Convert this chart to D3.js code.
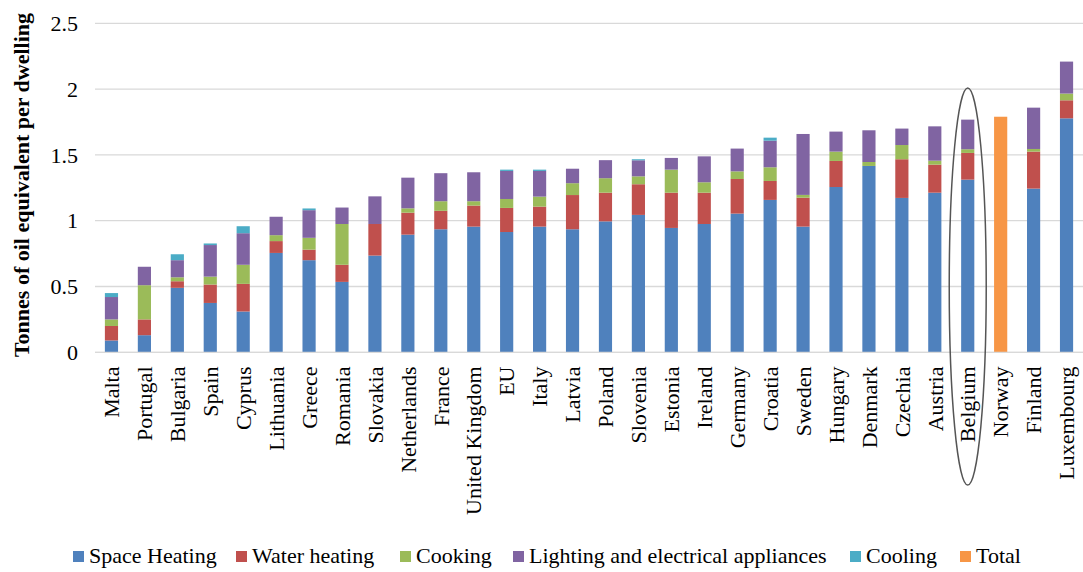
<!DOCTYPE html>
<html><head><meta charset="utf-8">
<script src="https://cdn.jsdelivr.net/npm/d3@7"></script>
<style>body{margin:0;background:#fff;}</style></head>
<body><svg id="c" width="1083" height="572"></svg>
<script>
const categories = ["Malta","Portugal","Bulgaria","Spain","Cyprus","Lithuania","Greece","Romania","Slovakia","Netherlands","France","United Kingdom","EU","Italy","Latvia","Poland","Slovenia","Estonia","Ireland","Germany","Croatia","Sweden","Hungary","Denmark","Czechia","Austria","Belgium","Norway","Finland","Luxembourg"];
const spaceHeating = [0.09,0.13,0.49,0.375,0.31,0.755,0.70,0.535,0.735,0.894,0.935,0.955,0.914,0.955,0.935,0.995,1.044,0.945,0.975,1.054,1.158,0.955,1.256,1.416,1.173,1.213,1.312,0,1.244,1.778];
const waterHeating = [0.11,0.12,0.05,0.14,0.21,0.09,0.08,0.13,0.24,0.167,0.14,0.16,0.183,0.152,0.26,0.218,0.233,0.268,0.238,0.263,0.144,0.22,0.198,0,0.294,0.213,0.203,0,0.281,0.137];
const cooking = [0.05,0.26,0.03,0.06,0.145,0.045,0.09,0.31,0,0.033,0.073,0.033,0.068,0.076,0.09,0.11,0.06,0.175,0.079,0.058,0.104,0.021,0.071,0.03,0.108,0.03,0.028,0,0.02,0.051];
const lighting = [0.17,0.14,0.13,0.24,0.24,0.14,0.21,0.125,0.21,0.233,0.213,0.22,0.213,0.195,0.11,0.137,0.122,0.089,0.197,0.173,0.202,0.463,0.152,0.241,0.125,0.261,0.225,0,0.314,0.243];
const cooling = [0.03,0,0.045,0.012,0.053,0,0.013,0,0,0,0,0,0.01,0.01,0,0,0.008,0,0,0,0.023,0,0,0,0,0,0,0,0,0];
const total = [0,0,0,0,0,0,0,0,0,0,0,0,0,0,0,0,0,0,0,0,0,0,0,0,0,0,0,1.79,0,0];
const seriesNames = ["Space Heating","Water heating","Cooking","Lighting and electrical appliances","Cooling","Total"];
const seriesColors = ["#4F81BD","#C0504D","#9BBB59","#8064A2","#4BACC6","#F79646"];
const yTicks = [0,0.5,1,1.5,2,2.5];
const yTickLabels = ["0","0.5","1","1.5","2","2.5"];
const highlighted = "Belgium";

const FONT = '"Liberation Serif", "Times New Roman", Times, serif';
const svg = d3.select("#c").style("font-family", FONT);
const mLeft = 95, mRight = 1083, mTop = 23.3, mBottom = 352.3;
const x = d3.scaleBand().domain(categories).range([mLeft, mRight]).paddingInner(0.6).paddingOuter(0.3);
const y = d3.scaleLinear().domain([0, 2.5]).range([mBottom, mTop]);

// gridlines
svg.append("g").selectAll("line").data(yTicks).join("line")
  .attr("x1", mLeft).attr("x2", mRight)
  .attr("y1", d => y(d)).attr("y2", d => y(d))
  .attr("stroke", "#d9d9d9").attr("stroke-width", 1.3);

// y tick labels
svg.append("g").selectAll("text").data(yTicks).join("text")
  .style("font-family", FONT)
  .attr("x", 78).attr("y", d => y(d)).attr("dy", "0.35em")
  .attr("text-anchor", "end").attr("font-size", 22).attr("fill", "#000")
  .text((d, i) => yTickLabels[i]);

// stacked bars
const rows = categories.map((c, i) => ({cat: c, v: [spaceHeating[i], waterHeating[i], cooking[i], lighting[i], cooling[i], total[i]]}));
const stack = d3.stack().keys(d3.range(6)).value((d, k) => d.v[k]);
const stacked = stack(rows);
svg.append("g").selectAll("g").data(stacked).join("g")
  .attr("fill", (d, i) => seriesColors[i])
  .selectAll("rect").data(d => d.filter(p => p[1] - p[0] > 0)).join("rect")
  .attr("x", d => x(d.data.cat)).attr("width", x.bandwidth())
  .attr("y", d => y(d[1])).attr("height", d => y(d[0]) - y(d[1]));

// axis line
svg.append("line").attr("x1", mLeft).attr("x2", mRight).attr("y1", mBottom).attr("y2", mBottom)
  .attr("stroke", "#d9d9d9").attr("stroke-width", 1.3);

// category labels
svg.append("g").selectAll("text").data(categories).join("text")
  .style("font-family", FONT)
  .attr("transform", d => `translate(${x(d) + x.bandwidth() / 2},366.5) rotate(-90)`)
  .attr("dy", "0.35em").attr("text-anchor", "end").attr("font-size", 22).attr("fill", "#000")
  .text(d => d);

// y axis title
svg.append("text")
  .style("font-family", FONT)
  .attr("transform", "translate(28.5,185) rotate(-90)")
  .attr("text-anchor", "middle").attr("font-size", 22).attr("font-weight", "bold").attr("fill", "#000")
  .text("Tonnes of oil equivalent per dwelling");

// ellipse around highlighted
const hx = x(highlighted) + x.bandwidth() / 2;
const eTop = y(2.0) - 1, eBottom = 485;
svg.append("ellipse")
  .attr("cx", hx).attr("cy", (eTop + eBottom) / 2)
  .attr("rx", 18.5).attr("ry", (eBottom - eTop) / 2)
  .attr("fill", "none").attr("stroke", "#555").attr("stroke-width", 1.5);

// legend
const legendX = [73, 236, 400, 513, 850, 960];
const lg = svg.append("g").selectAll("g").data(seriesNames).join("g")
  .attr("transform", (d, i) => `translate(${legendX[i]},0)`);
lg.append("rect").attr("x", 0).attr("y", 551).attr("width", 11).attr("height", 11)
  .attr("fill", (d, i) => seriesColors[i]);
lg.append("text").style("font-family", FONT)
  .attr("x", 16).attr("y", 563).attr("font-size", 22).attr("fill", "#000").text(d => d);
</script></body></html>
